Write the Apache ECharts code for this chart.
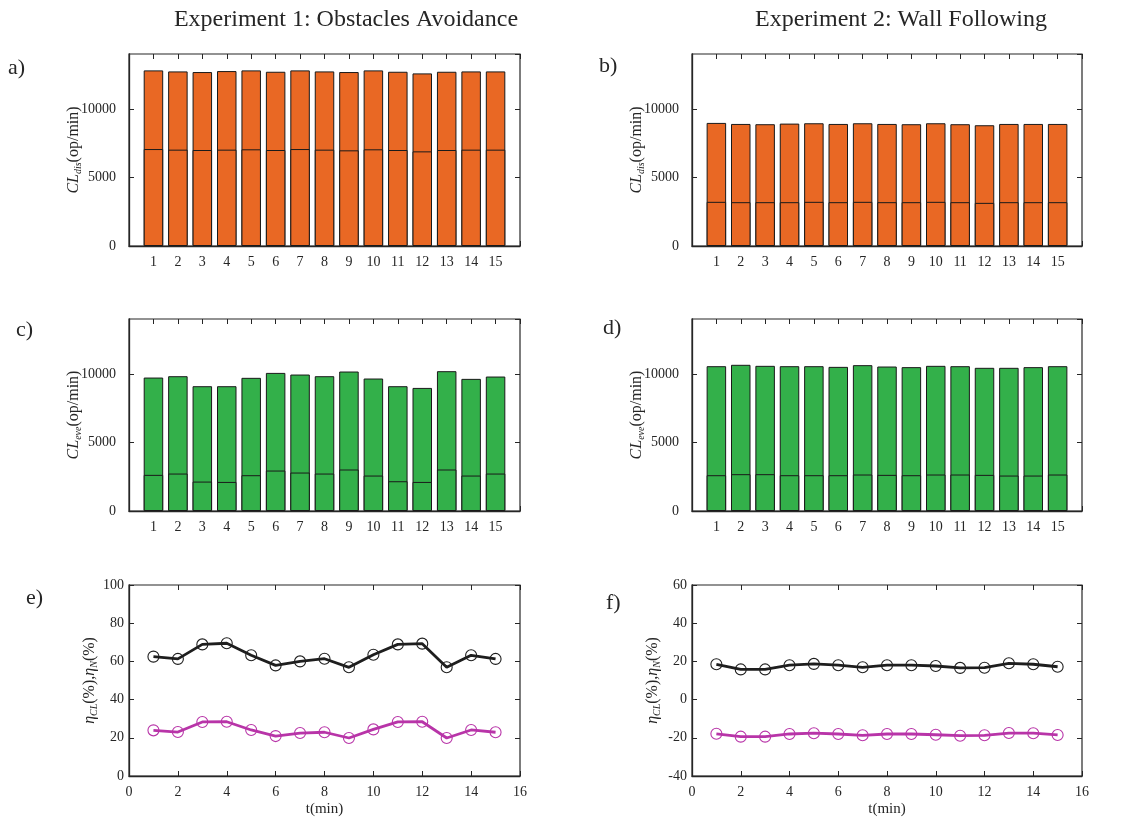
<!DOCTYPE html>
<html>
<head>
<meta charset="utf-8">
<script src="https://cdn.jsdelivr.net/npm/echarts@6/dist/echarts.min.js"></script>
<style>
html,body{margin:0;padding:0;background:#fff;}
#chart{width:1139px;height:820px;}
</style>
</head>
<body>
<div id="chart"></div>
<script>
// ---- data ----
const xs = [1,2,3,4,5,6,7,8,9,10,11,12,13,14,15];
const aTotal = [12805,12730,12685,12755,12805,12705,12805,12730,12685,12805,12705,12585,12705,12730,12730];
const aLower = [7070,7025,7000,7025,7050,7000,7070,7025,6975,7050,7000,6900,7000,7025,7025];
const bTotal = [8975,8900,8880,8925,8950,8900,8950,8900,8880,8950,8880,8805,8900,8900,8900];
const bLower = [3220,3195,3195,3195,3220,3195,3220,3195,3195,3220,3195,3145,3195,3195,3195];
const cTotal = [9730,9830,9100,9100,9710,10070,9950,9830,10170,9660,9100,8975,10195,9635,9805];
const cLower = [2635,2730,2145,2120,2610,2950,2805,2730,3025,2585,2170,2120,3025,2585,2730];
const dTotal = [10560,10660,10585,10560,10560,10510,10635,10535,10490,10585,10560,10440,10440,10490,10560];
const dLower = [2610,2685,2685,2610,2610,2610,2660,2635,2610,2660,2660,2635,2585,2585,2660];
const eBlack = [62.5,61.3,68.9,69.5,63.2,57.9,60.0,61.4,56.9,63.5,68.9,69.3,56.9,63.2,61.3];
const eMagenta = [23.9,23.0,28.3,28.4,24.1,20.9,22.5,22.9,19.9,24.4,28.3,28.4,19.9,24.1,22.9];
const fBlack = [18.5,15.8,15.8,18.0,18.7,18.0,16.9,18.0,18.0,17.6,16.6,16.7,19.0,18.5,17.2];
const fMagenta = [-17.9,-19.4,-19.4,-18.0,-17.6,-18.0,-18.7,-18.0,-18.0,-18.4,-18.9,-18.7,-17.5,-17.6,-18.5];
const titles = ['Experiment 1: Obstacles Avoidance', 'Experiment 2: Wall Following'];
const panelLabels = ['a)', 'b)', 'c)', 'd)', 'e)', 'f)'];

// ---- styling ----
const FONT = 'Liberation Serif';
const AX = '#262626';
const ORANGE = '#E96824';
const GREEN = '#33B04A';
const MAGENTA = '#B834A8';
const BLACK = '#1e1e1e';

const grids = [
  {left:129, top:54, width:391, height:192},
  {left:692, top:54, width:390, height:192},
  {left:129, top:319, width:391, height:192},
  {left:692, top:319, width:390, height:192},
  {left:129, top:585, width:391, height:191},
  {left:692, top:585, width:390, height:191}
];

const xAxes = [], yAxes = [], series = [];

const rich = {
  i:{fontFamily:FONT, fontStyle:'italic', fontSize:16, color:AX, lineHeight:22, verticalAlign:'middle'},
  s:{fontFamily:FONT, fontStyle:'italic', fontSize:10, color:AX, lineHeight:22, padding:[9,0,0,0], verticalAlign:'middle'},
  n:{fontFamily:FONT, fontSize:16, color:AX, lineHeight:22, verticalAlign:'middle'}
};

function addAxes(gi, xmin, xmax, xint, ymin, ymax, yint, yName, yGap, yMargin, xName, xHideEnds, hideMaxY) {
  const lbl = {fontFamily:FONT, fontSize:14, color:AX};
  const tick = {show:true, inside:true, length:5, lineStyle:{color:AX}};
  xAxes.push({
    gridIndex: gi, type:'value', min:xmin, max:xmax, interval:xint, position:'bottom',
    axisLine:{show:true, onZero:false, lineStyle:{color:AX, width:1.3}},
    axisTick:tick, splitLine:{show:false},
    axisLabel:Object.assign({margin:9, formatter: v => (xHideEnds && (v===xmin || v===xmax)) ? '' : String(v)}, lbl),
    name: xName || '', nameLocation:'middle', nameGap:26, nameMoveOverlap:false,
    nameTextStyle:{fontFamily:FONT, fontSize:15, color:AX}
  });
  xAxes.push({
    gridIndex: gi, type:'value', min:xmin, max:xmax, interval:xint, position:'top',
    axisLine:{show:false, onZero:false}, axisTick:tick,
    axisLabel:{show:false}, splitLine:{show:false}
  });
  yAxes.push({
    gridIndex: gi, type:'value', min:ymin, max:ymax, interval:yint, position:'left',
    axisLine:{show:true, onZero:false, lineStyle:{color:AX, width:1.3}},
    axisTick:tick, splitLine:{show:false},
    axisLabel:Object.assign({margin:yMargin, showMaxLabel: !hideMaxY, formatter: v => String(v)}, lbl),
    name: yName, nameLocation:'middle', nameGap:yGap, nameMoveOverlap:false,
    nameTextStyle:{rich: rich}
  });
  yAxes.push({
    gridIndex: gi, type:'value', min:ymin, max:ymax, interval:yint, position:'right',
    axisLine:{show:false, onZero:false}, axisTick:tick,
    axisLabel:{show:false}, splitLine:{show:false}
  });
}

function pairs(vals) { return xs.map((x, i) => [x, vals[i]]); }

function addBars(gi, total, lower, color, yName) {
  addAxes(gi, 0, 16, 1, 0, 14000, 5000, yName, 44, 13, '', true, true);
  const common = {
    type:'bar', xAxisIndex:2*gi, yAxisIndex:2*gi, barWidth:19.5, barGap:'-100%',
    itemStyle:{color:color, borderColor:'#1a1a1a', borderWidth:1},
    silent:true, animation:false
  };
  series.push(Object.assign({data:pairs(total)}, common));
  series.push(Object.assign({data:pairs(lower)}, common));
}

function addLines(gi, black, magenta, ymin, ymax, yName) {
  addAxes(gi, 0, 16, 2, ymin, ymax, 20, yName, 28, 5, 't(min)', false, false);
  const mk = (vals, col) => ({
    type:'line', xAxisIndex:2*gi, yAxisIndex:2*gi, data:pairs(vals),
    lineStyle:{color:col, width:2.8},
    symbol:'circle', symbolSize:11,
    itemStyle:{color:'rgba(0,0,0,0)', borderColor:col, borderWidth:1.1},
    silent:true, animation:false
  });
  series.push(mk(black, BLACK));
  series.push(mk(magenta, MAGENTA));
}

const nameDis = '{i|CL}{s|dis}{n|(op/min)}';
const nameEve = '{i|CL}{s|eve}{n|(op/min)}';
const nameEta = '{i|η}{s|CL}{n|(%),}{i|η}{s|N}{n|(%)}';

addBars(0, aTotal, aLower, ORANGE, nameDis);
addBars(1, bTotal, bLower, ORANGE, nameDis);
addBars(2, cTotal, cLower, GREEN, nameEve);
addBars(3, dTotal, dLower, GREEN, nameEve);
addLines(4, eBlack, eMagenta, 0, 100, nameEta);
addLines(5, fBlack, fMagenta, -40, 60, nameEta);

const titleStyle = {fontFamily:FONT, fontSize:24, fontWeight:'normal', color:AX};
const labelPos = [[8,57],[599,55],[16,319],[603,317],[26,587],[606,592]];
const titleList = [
  {text:titles[0], left:346, top:8, padding:0, textAlign:'center', textStyle:titleStyle},
  {text:titles[1], left:901, top:8, padding:0, textAlign:'center', textStyle:titleStyle}
];
panelLabels.forEach((t, i) => {
  titleList.push({text:t, left:labelPos[i][0], top:labelPos[i][1], padding:0,
    textStyle:{fontFamily:FONT, fontSize:22, fontWeight:'normal', color:AX}});
});

const chart = echarts.init(document.getElementById('chart'), null, {renderer:'canvas'});
chart.setOption({
  backgroundColor:'#ffffff',
  animation:false,
  title: titleList,
  grid: grids.map(g => Object.assign({show:true, borderColor:AX, borderWidth:1.2, backgroundColor:'transparent', containLabel:false}, g)),
  xAxis: xAxes,
  yAxis: yAxes,
  series: series
});
</script>
</body>
</html>
